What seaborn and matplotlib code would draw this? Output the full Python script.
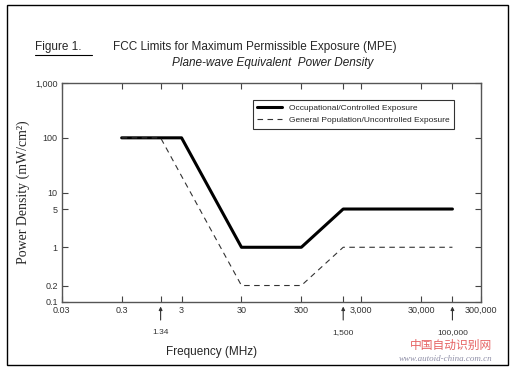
import pandas as pd
import seaborn as sns
import matplotlib.pyplot as plt
from matplotlib.patches import Rectangle

# MPE limits (frequency in MHz, power density in mW/cm^2)
occ_freq = [0.3, 3, 30, 300, 1500, 100000]
occ_power = [100, 100, 1, 1, 5, 5]
gen_freq = [0.3, 1.34, 30, 300, 1500, 100000]
gen_power = [100, 100, 0.2, 0.2, 1, 1]

x_ticks = [0.03, 0.3, 3, 30, 300, 3000, 30000, 300000]
x_labels = ['0.03', '0.3', '3', '30', '300', '3,000', '30,000', '300,000']
x_marks = [1.34, 1500, 100000]
mark_labels = ['1.34', '1,500', '100,000']
y_ticks = [0.1, 0.2, 1, 5, 10, 100, 1000]
y_labels = ['0.1', '0.2', '1', '5', '10', '100', '1,000']

occ = pd.DataFrame({'freq': occ_freq, 'power': occ_power})
gen = pd.DataFrame({'freq': gen_freq, 'power': gen_power})

sns.set_style('ticks')
plt.rcParams['font.family'] = ['Liberation Sans', 'DejaVu Sans']

fig = plt.figure(figsize=(5.15, 3.71), dpi=100)
ax = fig.add_axes([0.120, 0.186, 0.814, 0.590])

sns.lineplot(data=occ, x='freq', y='power', sort=False, estimator=None, ax=ax,
             color='black', linewidth=2.2, label='Occupational/Controlled Exposure')
sns.lineplot(data=gen, x='freq', y='power', sort=False, estimator=None, ax=ax,
             color='#333333', linewidth=0.8, linestyle=(0, (5, 4)),
             label='General Population/Uncontrolled Exposure')

ax.set_xscale('log')
ax.set_yscale('log')
ax.set_xlim(0.03, 300000)
ax.set_ylim(0.1, 1000)
ax.set_xticks(x_ticks + x_marks)
ax.set_xticklabels(x_labels + [''] * len(x_marks))
ax.set_yticks(y_ticks)
ax.set_yticklabels(y_labels)
ax.minorticks_off()
ax.tick_params(direction='in', length=4, width=0.8, labelsize=6.5, colors='#444444',
               top=True, right=True, labelcolor='#333333', pad=3)
for s in ax.spines.values():
    s.set_color('#555555')
    s.set_linewidth(1.0)

ax.set_xlabel('')
ax.set_ylabel('Power Density (mW/cm²)', family='Liberation Serif', fontsize=10, labelpad=4)

leg = ax.legend(loc='upper right', bbox_to_anchor=(0.945, 0.94), fontsize=6, frameon=True,
                fancybox=False, edgecolor='black', handlelength=3, borderpad=0.5,
                labelspacing=0.5)
leg.get_frame().set_linewidth(0.8)

# arrows marking the breakpoints
for f, lab in zip(x_marks, mark_labels):
    ax.annotate('', xy=(f, -0.008), xycoords=('data', 'axes fraction'),
                xytext=(f, -0.095), textcoords=('data', 'axes fraction'),
                arrowprops=dict(arrowstyle='-|>', color='#333333', lw=0.8,
                                mutation_scale=5))
    ax.text(f, -0.14, lab, transform=ax.get_xaxis_transform(), ha='center', va='center',
            fontsize=6, color='#333333')

fig.text(0.41, 0.052, 'Frequency (MHz)', ha='center', va='center', fontsize=8.5)
fig.text(0.068, 0.873, 'Figure 1.', ha='left', va='center', fontsize=8.5)
fig.add_artist(plt.Line2D([0.068, 0.178], [0.851, 0.851], color='black', lw=0.8))
fig.text(0.219, 0.873, 'FCC Limits for Maximum Permissible Exposure (MPE)', ha='left',
         va='center', fontsize=8.5)
fig.text(0.53, 0.831, 'Plane-wave Equivalent  Power Density', ha='center', va='center',
         fontsize=8.5, style='italic', color='#222222')

# watermark
fig.text(0.875, 0.068, '中国自动识别网', ha='center', va='center', fontsize=8.5,
         color='#e03c3c', style='italic', alpha=0.8,
         family=['Noto Sans CJK SC', 'DejaVu Sans'])
fig.text(0.865, 0.033, 'www.autoid-china.com.cn', ha='center', va='center', fontsize=6.5,
         color='#9090a8', style='italic', family='Liberation Serif')

fig.add_artist(Rectangle((0.014, 0.016), 0.972, 0.97, transform=fig.transFigure,
                         fill=False, edgecolor='black', lw=1.0))

fig.savefig('out.png', dpi=100)
